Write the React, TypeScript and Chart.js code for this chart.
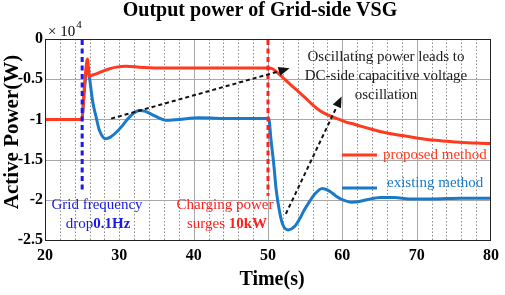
import React, { useEffect, useRef } from "react";
import { Chart, registerables } from "chart.js";

Chart.register(...registerables);

// ---------- data ----------
const TITLE = "Output power of Grid-side VSG";
const X_TITLE = "Time(s)";
const Y_TITLE = "Active Power(W)";
const Y_EXPONENT_BASE = "\u00d7 10";
const Y_EXPONENT = "4";
const SERIES_LABELS = ["proposed method", "existing method"];

// proposed method (W)
const T_PROPOSED = [
  20, 24.95, 25.3, 25.7, 26.0, 26.3, 26.7, 27.8, 28.7, 29.6, 30.9, 32.7, 34.7, 40, 45, 50,
  50.6, 51.3, 52.0, 52.7, 53.8, 55.0, 56.0, 57.1, 58.2, 59.3, 60.4, 61.6, 63.8, 66, 68, 70,
  72.5, 75.3, 78, 80,
];
const P_PROPOSED = [
  -10000, -10000, -6000, -2500, -4700, -4500, -4400, -4000, -3700, -3500, -3400, -3500, -3600,
  -3600, -3600, -3600, -3700, -4200, -4800, -5400, -6300, -7300, -8200, -9000, -9500, -9900,
  -10300, -10600, -11200, -11700, -12000, -12300, -12600, -12800, -12950, -13000,
];

// existing method (W)
const T_EXISTING = [
  20, 24.95, 25.3, 25.7, 25.95, 26.1, 26.4, 26.9, 27.3, 27.8, 28.2, 28.8, 29.6, 30.3, 30.9,
  31.7, 32.7, 33.5, 34.4, 35.3, 36.2, 38, 40.7, 45, 50.1, 50.4, 50.8, 51.1, 51.6, 52.0, 52.7,
  53.6, 54.3, 54.9, 55.6, 56.2, 57.3, 58.4, 59.1, 59.8, 61.3, 62.3, 63.3, 65.1, 67, 69, 72, 76,
  80,
];
const P_EXISTING = [
  -10000, -10000, -6300, -3300, -4600, -5600, -7700, -9800, -11300, -12200, -12400, -12200,
  -11600, -10900, -10200, -9400, -8900, -9000, -9400, -9800, -10100, -10000, -9800, -9900,
  -9900, -12500, -15800, -18750, -21700, -23100, -23750, -23300, -22300, -21250, -20200,
  -19400, -18600, -19000, -19500, -19900, -20300, -20200, -20000, -19700, -19700, -19900,
  -19900, -19800, -19800,
];

const X_MIN = 20;
const X_MAX = 80;
const X_STEP = 10;
const Y_MIN = -25000;
const Y_MAX = 0;
const Y_STEP = 5000;
const Y_SCALE_DIV = 10000;

// event markers: time, lower end (W)
const EVENT_TIMES = [25, 50];
const EVENT_ENDS = [-19000, -19500];

// annotation arrows: [t0, p0, t1, p1]
const ARROW_1 = [28.9, -9900, 52.9, -3650];
const ARROW_2 = [52.4, -21750, 59.9, -7150];

const NOTE_LINES = ["Oscillating power leads to", "DC-side capacitive voltage", "oscillation"];
const GRID_NOTE = ["Grid frequency", "drop", "0.1Hz"];
const CHARGE_NOTE = ["Charging power", "surges ", "10kW"];

// ---------- style ----------
const SERIF = "'Liberation Serif', 'Times New Roman', serif";
const RED = "#ff3a1f";
const BLUE = "#1a7ac8";
const EVENT_COLORS = ["#1a1ae8", "#ff2020"];

const overlay = {
  id: "overlay",
  beforeDatasetsDraw(chart: any) {
    const { ctx, chartArea } = chart;
    const { left, right, top, bottom } = chartArea;
    const xs = chart.scales.x;
    const ys = chart.scales.y;
    ctx.save();
    // minor dotted verticals
    ctx.strokeStyle = "#8a8a8a";
    ctx.lineWidth = 1;
    ctx.setLineDash([1.5, 2]);
    for (let t = X_MIN + 2; t < X_MAX; t += 2) {
      if (t % 10 === 0 && t !== 30) continue;
      const x = Math.round(xs.getPixelForValue(t)) + 0.5;
      ctx.beginPath();
      ctx.moveTo(x, top);
      ctx.lineTo(x, bottom);
      ctx.stroke();
    }
    ctx.setLineDash([]);
    ctx.strokeStyle = "#a8a8a8";
    for (let t = 40; t < X_MAX; t += 10) {
      const x = Math.round(xs.getPixelForValue(t)) + 0.5;
      ctx.beginPath();
      ctx.moveTo(x, top);
      ctx.lineTo(x, bottom);
      ctx.stroke();
    }
    for (let v = Y_MIN + Y_STEP; v < Y_MAX; v += Y_STEP) {
      const y = Math.round(ys.getPixelForValue(v)) + 0.5;
      ctx.beginPath();
      ctx.moveTo(left, y);
      ctx.lineTo(right, y);
      ctx.stroke();
    }
    ctx.restore();
  },
  afterDatasetsDraw(chart: any) {
    const { ctx, chartArea } = chart;
    const { left, right, top, bottom } = chartArea;
    const xs = chart.scales.x;
    const ys = chart.scales.y;
    ctx.save();
    // frame
    ctx.strokeStyle = "#222";
    ctx.lineWidth = 1;
    ctx.strokeRect(left + 0.5, top + 0.5, right - left - 1, bottom - top);

    // event dashed verticals
    EVENT_TIMES.forEach((t, i) => {
      const x = xs.getPixelForValue(t);
      ctx.strokeStyle = EVENT_COLORS[i];
      ctx.lineWidth = 3;
      ctx.setLineDash([5, 3.5]);
      ctx.beginPath();
      ctx.moveTo(x, top + 1);
      ctx.lineTo(x, ys.getPixelForValue(EVENT_ENDS[i]));
      ctx.stroke();
    });
    ctx.setLineDash([]);

    // arrows
    const arrow = (a: number[]) => {
      const x0 = xs.getPixelForValue(a[0]);
      const y0 = ys.getPixelForValue(a[1]);
      const x1 = xs.getPixelForValue(a[2]);
      const y1 = ys.getPixelForValue(a[3]);
      const ang = Math.atan2(y1 - y0, x1 - x0);
      const hl = 11;
      const hw = 4.5;
      const bx = x1 - hl * Math.cos(ang);
      const by = y1 - hl * Math.sin(ang);
      ctx.strokeStyle = "#111";
      ctx.lineWidth = 2;
      ctx.setLineDash([4, 3]);
      ctx.beginPath();
      ctx.moveTo(x0, y0);
      ctx.lineTo(bx, by);
      ctx.stroke();
      ctx.setLineDash([]);
      ctx.fillStyle = "#111";
      ctx.beginPath();
      ctx.moveTo(x1, y1);
      ctx.lineTo(bx + hw * Math.sin(ang), by - hw * Math.cos(ang));
      ctx.lineTo(bx - hw * Math.sin(ang), by + hw * Math.cos(ang));
      ctx.closePath();
      ctx.fill();
    };
    arrow(ARROW_1);
    arrow(ARROW_2);

    // title & axis titles
    ctx.fillStyle = "#000";
    ctx.textBaseline = "middle";
    ctx.textAlign = "center";
    ctx.font = `bold 20px ${SERIF}`;
    ctx.fillText(TITLE, 260, 11);
    ctx.font = `bold 20px ${SERIF}`;
    ctx.fillText(X_TITLE, 272, 280);
    ctx.save();
    ctx.translate(13, 132);
    ctx.rotate(-Math.PI / 2);
    ctx.font = `bold 21px ${SERIF}`;
    ctx.fillText(Y_TITLE, 0, 0);
    ctx.restore();

    // exponent
    ctx.textAlign = "left";
    ctx.font = `15px ${SERIF}`;
    ctx.fillText(Y_EXPONENT_BASE, 48, 32);
    const w10 = ctx.measureText(Y_EXPONENT_BASE).width;
    ctx.font = `11px ${SERIF}`;
    ctx.fillText(Y_EXPONENT, 48 + w10 + 1, 25);

    // annotation note
    ctx.textAlign = "center";
    ctx.font = `15px ${SERIF}`;
    ctx.fillStyle = "#1a1a1a";
    NOTE_LINES.forEach((s, i) => ctx.fillText(s, 386, 57 + i * 19));

    // event notes
    const twoPart = (a: string, b: string, cx: number, y: number, color: string) => {
      ctx.fillStyle = color;
      ctx.textAlign = "left";
      ctx.font = `15px ${SERIF}`;
      const wa = ctx.measureText(a).width;
      ctx.font = `bold 15px ${SERIF}`;
      const wb = ctx.measureText(b).width;
      const x0 = cx - (wa + wb) / 2;
      ctx.font = `15px ${SERIF}`;
      ctx.fillText(a, x0, y);
      ctx.font = `bold 15px ${SERIF}`;
      ctx.fillText(b, x0 + wa, y);
    };
    ctx.textAlign = "center";
    ctx.font = `15px ${SERIF}`;
    ctx.fillStyle = EVENT_COLORS[0];
    ctx.fillText(GRID_NOTE[0], 97, 205);
    twoPart(GRID_NOTE[1], GRID_NOTE[2], 98, 224, EVENT_COLORS[0]);
    ctx.textAlign = "center";
    ctx.font = `15px ${SERIF}`;
    ctx.fillStyle = EVENT_COLORS[1];
    ctx.fillText(CHARGE_NOTE[0], 225, 205);
    twoPart(CHARGE_NOTE[1], CHARGE_NOTE[2], 227, 224, EVENT_COLORS[1]);

    // legend
    const ds = chart.data.datasets;
    const legendRows = [
      { lineY: 155, textY: 155, textX: 383 },
      { lineY: 188, textY: 183, textX: 387 },
    ];
    ds.forEach((d: any, i: number) => {
      const r = legendRows[i];
      ctx.strokeStyle = d.borderColor;
      ctx.lineWidth = 3;
      ctx.beginPath();
      ctx.moveTo(342, r.lineY);
      ctx.lineTo(377, r.lineY);
      ctx.stroke();
      ctx.fillStyle = d.borderColor;
      ctx.textAlign = "left";
      ctx.font = `15px ${SERIF}`;
      ctx.fillText(d.label, r.textX, r.textY);
    });
    ctx.restore();
  },
};

export default function App() {
  const ref = useRef<HTMLCanvasElement | null>(null);
  useEffect(() => {
    if (!ref.current) return;
    const proposed = T_PROPOSED.map((t, i) => ({ x: t, y: P_PROPOSED[i] }));
    const existing = T_EXISTING.map((t, i) => ({ x: t, y: P_EXISTING[i] }));
    const chart = new Chart(ref.current, {
      type: "line",
      data: {
        datasets: [
          {
            label: SERIES_LABELS[0],
            data: proposed,
            borderColor: RED,
            borderWidth: 3,
            pointRadius: 0,
            fill: false,
            cubicInterpolationMode: "monotone",
            order: 1,
          },
          {
            label: SERIES_LABELS[1],
            data: existing,
            borderColor: BLUE,
            borderWidth: 3,
            pointRadius: 0,
            fill: false,
            cubicInterpolationMode: "monotone",
            order: 2,
          },
        ],
      },
      options: {
        responsive: false,
        animation: false,
        events: [],
        layout: { padding: { top: 39, right: 10, left: 0, bottom: 0 } },
        plugins: { legend: { display: false }, title: { display: false }, tooltip: { enabled: false } },
        scales: {
          x: {
            type: "linear",
            min: X_MIN,
            max: X_MAX,
            grid: { display: false, drawTicks: false },
            border: { display: false },
            ticks: {
              stepSize: X_STEP,
              padding: 6,
              color: "#000",
              font: { family: SERIF, size: 16, weight: "bold" },
              maxRotation: 0,
            },
            afterFit: (s: any) => {
              s.height = 55;
            },
          },
          y: {
            type: "linear",
            min: Y_MIN,
            max: Y_MAX,
            grid: { display: false, drawTicks: false },
            border: { display: false },
            ticks: {
              stepSize: Y_STEP,
              padding: 2,
              color: "#000",
              font: { family: SERIF, size: 16, weight: "bold" },
              callback: (v: any) => String(Number(v) / Y_SCALE_DIV),
            },
            afterFit: (s: any) => {
              s.width = 45;
            },
          },
        },
      },
      plugins: [overlay],
    } as any);
    return () => chart.destroy();
  }, []);
  return (
    <div style={{ position: "fixed", left: 0, top: 0, width: 505, height: 295, background: "#fff" }}>
      <canvas ref={ref} width={505} height={295} style={{ display: "block" }} />
    </div>
  );
}
